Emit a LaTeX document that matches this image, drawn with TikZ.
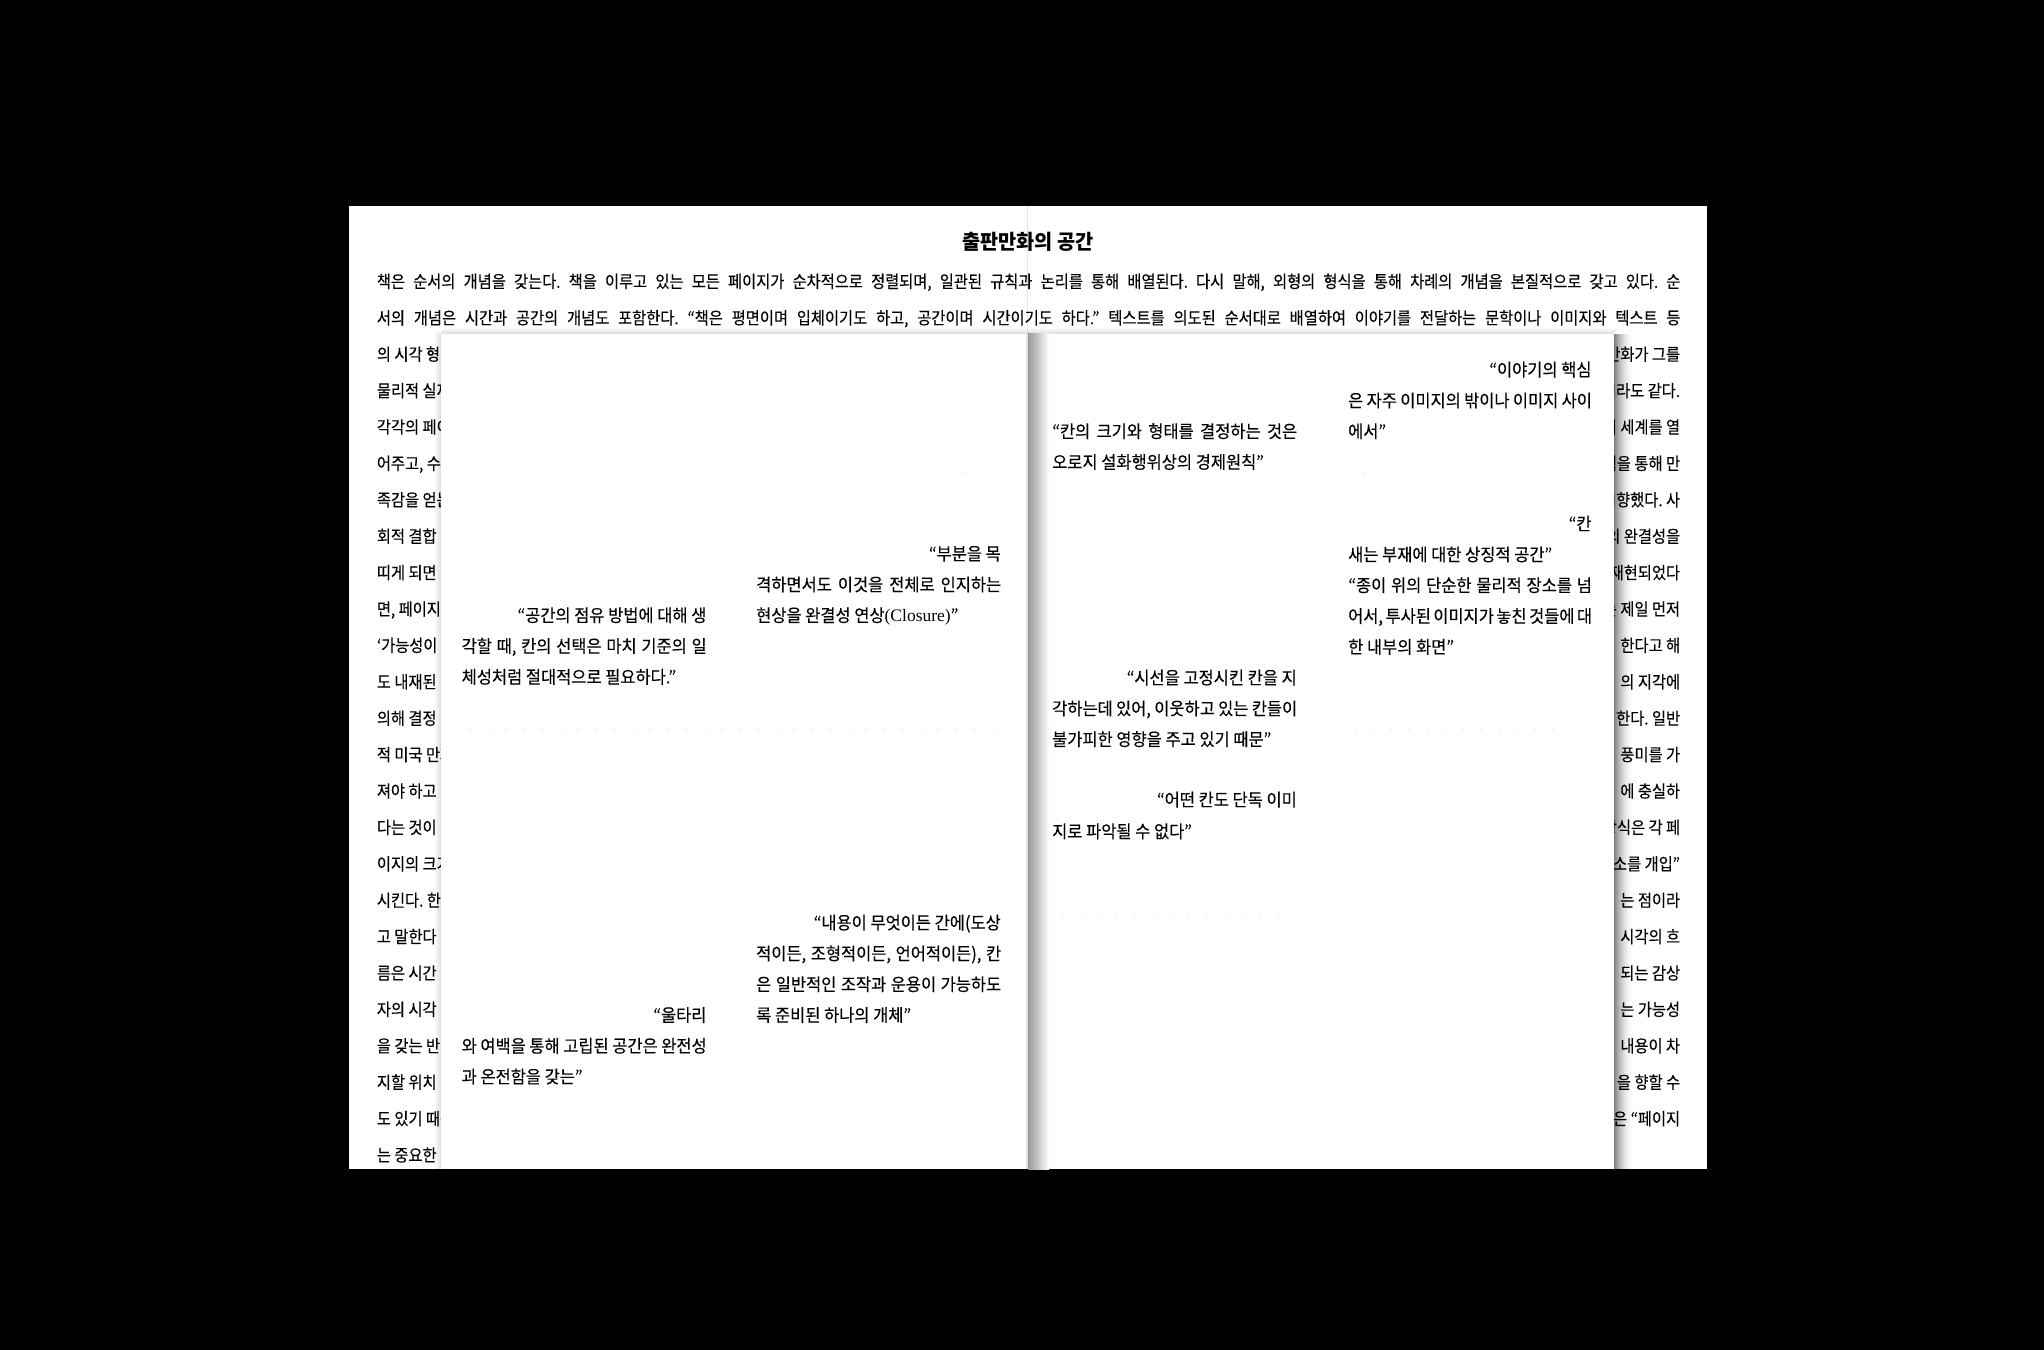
\documentclass[tikz,border=0pt]{standalone}
\usepackage{fontspec}
\setmainfont{Noto Sans CJK KR}[FakeStretch=0.9, FakeBold=0.2]
\newfontfamily\panelfont{Noto Sans CJK KR}[FakeStretch=0.94, FakeBold=0.2]
\newfontfamily\titlefont{Noto Sans CJK KR}[FakeStretch=0.96]
\newfontfamily\serifL{Liberation Serif}
\frenchspacing
\begin{document}
\begin{tikzpicture}[x=1bp,y=-1bp,
  txt/.style={inner sep=0pt, font=\fontsize{17bp}{19bp}\selectfont},
  lft/.style={txt, anchor=base west},
  rgt/.style={txt, anchor=base east},
  ptxt/.style={inner sep=0pt, font=\panelfont\fontsize{17.5bp}{19bp}\selectfont},
  plft/.style={ptxt, anchor=base west},
  prgt/.style={ptxt, anchor=base east},
  titletxt/.style={inner sep=0pt, anchor=base, font=\titlefont\fontsize{20.5bp}{22bp}\selectfont\bfseries},
  panel/.style={fill=white},
  dotc/.style={fill=black!9}
]
\useasboundingbox (0,0) rectangle (2044,1350);
\fill[black] (0,0) rectangle (2044,1350);
% page
\fill[white] (349,206) rectangle (1707,1169);
\draw[black!10, line width=0.8bp] (1027,206) -- (1027,334);

% title
\node[titletxt] (title) at (1028,249.5) {출판만화의 공간};

% full lines
\node[lft] (b1) at (376.7,287.8) {\makebox[1303.6bp][s]{책은 순서의 개념을 갖는다. 책을 이루고 있는 모든 페이지가 순차적으로 정렬되며, 일관된 규칙과 논리를 통해 배열된다. 다시 말해, 외형의 형식을 통해 차례의 개념을 본질적으로 갖고 있다. 순}};
\node[lft] (b2) at (376.7,324.2) {\makebox[1303.6bp][s]{서의 개념은 시간과 공간의 개념도 포함한다. “책은 평면이며 입체이기도 하고, 공간이며 시간이기도 하다.” 텍스트를 의도된 순서대로 배열하여 이야기를 전달하는 문학이나 이미지와 텍스트 등}};

% left fragments
\node[lft] (l3) at (376.7,360.6) {의 시각 형식};
\node[lft] (l4) at (376.7,397) {물리적 실재};
\node[lft] (l5) at (376.7,433.4) {각각의 페이지};
\node[lft] (l6) at (376.7,469.8) {어주고, 수많은};
\node[lft] (l7) at (376.7,506.2) {족감을 얻는};
\node[lft] (l8) at (376.7,542.6) {회적 결합};
\node[lft] (l9) at (376.7,579) {띠게 되면};
\node[lft] (l10) at (376.7,615.4) {면, 페이지};
\node[lft] (l11) at (376.7,651.8) {‘가능성이};
\node[lft] (l12) at (376.7,688.2) {도 내재된};
\node[lft] (l13) at (376.7,724.6) {의해 결정};
\node[lft] (l14) at (376.7,761) {적 미국 만화};
\node[lft] (l15) at (376.7,797.4) {져야 하고};
\node[lft] (l16) at (376.7,833.8) {다는 것이};
\node[lft] (l17) at (376.7,870.2) {이지의 크기};
\node[lft] (l18) at (376.7,906.6) {시킨다. 한편};
\node[lft] (l19) at (376.7,943) {고 말한다};
\node[lft] (l20) at (376.7,979.4) {름은 시간};
\node[lft] (l21) at (376.7,1015.8) {자의 시각};
\node[lft] (l22) at (376.7,1052.2) {을 갖는 반면};
\node[lft] (l23) at (376.7,1088.6) {지할 위치};
\node[lft] (l24) at (376.7,1125) {도 있기 때문};
\node[lft] (l25) at (376.7,1161.4) {는 중요한};

% right fragments
\node[rgt] (r3) at (1680.3,360.6) {만화가 그를};
\node[rgt] (r4) at (1680.3,397) {이라도 같다.};
\node[rgt] (r5) at (1680.3,433.4) {의 세계를 열};
\node[rgt] (r6) at (1680.3,469.8) {경험을 통해 만};
\node[rgt] (r7) at (1680.3,506.2) {지향했다. 사};
\node[rgt] (r8) at (1680.3,542.6) {의 완결성을};
\node[rgt] (r9) at (1680.3,579) {재현되었다};
\node[rgt] (r10) at (1680.3,615.4) {는 제일 먼저};
\node[rgt] (r11) at (1680.3,651.8) {한다고 해};
\node[rgt] (r12) at (1680.3,688.2) {의 지각에};
\node[rgt] (r13) at (1680.3,724.6) {한다. 일반};
\node[rgt] (r14) at (1680.3,761) {풍미를 가};
\node[rgt] (r15) at (1680.3,797.4) {에 충실하};
\node[rgt] (r16) at (1680.3,833.8) {방식은 각 페};
\node[rgt] (r17) at (1680.3,870.2) {요소를 개입”};
\node[rgt] (r18) at (1680.3,906.6) {는 점이라};
\node[rgt] (r19) at (1680.3,943) {시각의 흐};
\node[rgt] (r20) at (1680.3,979.4) {되는 감상};
\node[rgt] (r21) at (1680.3,1015.8) {는 가능성};
\node[rgt] (r22) at (1680.3,1052.2) {내용이 차};
\node[rgt] (r23) at (1680.3,1088.6) {을 향할 수};
\node[rgt] (r24) at (1680.3,1125) {은 “페이지};

% shadows of the panels
\foreach \i in {0,...,19} {
  \pgfmathsetmacro\op{0.5*(1-\i/20)^2}
  \fill[black, opacity=\op] (1614+\i,334) rectangle (1615+\i,1169);
}
\foreach \i in {0,...,5} {
  \pgfmathsetmacro\op{0.12*(1-\i/6)}
  \fill[black, opacity=\op] (441,333-\i) rectangle (1614+\i,334-\i);
  \fill[black, opacity=\op] (440-\i,334-\i) rectangle (441-\i,1169);
}

% panels
\fill[panel] (441,334) rectangle (1027,1169);
\fill[panel] (1028,334) rectangle (1614,1169);
\shade[left color=black!40, right color=white] (1028,334) rectangle (1049,1169);
\fill[black!12] (1026,334) rectangle (1028,1169);

% faint dot rows
\foreach \x in {470,488,...,1000} { \fill[dotc] (\x,730) circle (1); }
\foreach \x in {1355,1373,...,1570} { \fill[dotc] (\x,730) circle (1); }
\foreach \x in {1062,1080,...,1295} { \fill[dotc] (\x,915) circle (1); }
\fill[dotc] (965,473) circle (1);
\fill[dotc] (1363,473) circle (1);

% left panel quotes
\node[prgt] (qa1) at (1001,560.2) {“부분을 목};
\node[plft] (qa2) at (756,591) {\makebox[245bp][s]{격하면서도 이것을 전체로 인지하는}};
\node[plft] (qa3) at (756,621.8) {현상을 완결성 연상{\serifL (Closure)}”};

\node[prgt] (qb1) at (706.6,621.8) {“공간의 점유 방법에 대해 생};
\node[plft] (qb2) at (461.5,652.6) {\makebox[245bp][s]{각할 때, 칸의 선택은 마치 기준의 일}};
\node[plft] (qb3) at (461.5,683.4) {체성처럼 절대적으로 필요하다.”};

\node[prgt] (qc1) at (1001,929.2) {“내용이 무엇이든 간에(도상};
\node[plft] (qc2) at (756,960) {\makebox[245bp][s]{적이든, 조형적이든, 언어적이든), 칸}};
\node[plft] (qc3) at (756,990.8) {\makebox[245bp][s]{은 일반적인 조작과 운용이 가능하도}};
\node[plft] (qc4) at (756,1021.6) {록 준비된 하나의 개체”};

\node[prgt] (qd1) at (706.6,1021.6) {“울타리};
\node[plft] (qd2) at (461.5,1052.4) {\makebox[245bp][s]{와 여백을 통해 고립된 공간은 완전성}};
\node[plft] (qd3) at (461.5,1083.2) {과 온전함을 갖는”};

% right panel quotes
\node[prgt] (qf1) at (1591.7,376.2) {“이야기의 핵심};
\node[plft] (qf2) at (1348,407) {\makebox[243.7bp][s]{은 자주 이미지의 밖이나 이미지 사이}};
\node[plft] (qf3) at (1348,437.8) {에서”};

\node[plft] (qe1) at (1052,437.8) {\makebox[245bp][s]{“칸의 크기와 형태를 결정하는 것은}};
\node[plft] (qe2) at (1052,468.6) {오로지 설화행위상의 경제원칙”};

\node[prgt] (qg1) at (1591.7,530.2) {“칸};
\node[plft] (qg2) at (1348,561) {새는 부재에 대한 상징적 공간”};

\node[plft] (qh1) at (1348,591.8) {\makebox[243.7bp][s]{“종이 위의 단순한 물리적 장소를 넘}};
\node[plft] (qh2) at (1348,622.6) {\makebox[243.7bp][s]{어서, 투사된 이미지가 놓친 것들에 대}};
\node[plft] (qh3) at (1348,653.4) {한 내부의 화면”};

\node[prgt] (qi1) at (1297,684.2) {“시선을 고정시킨 칸을 지};
\node[plft] (qi2) at (1052,715) {\makebox[245bp][s]{각하는데 있어, 이웃하고 있는 칸들이}};
\node[plft] (qi3) at (1052,745.8) {불가피한 영향을 주고 있기 때문”};

\node[prgt] (qj1) at (1297,806.2) {“어떤 칸도 단독 이미};
\node[plft] (qj2) at (1052,837.9) {지로 파악될 수 없다”};
\end{tikzpicture}
\end{document}
